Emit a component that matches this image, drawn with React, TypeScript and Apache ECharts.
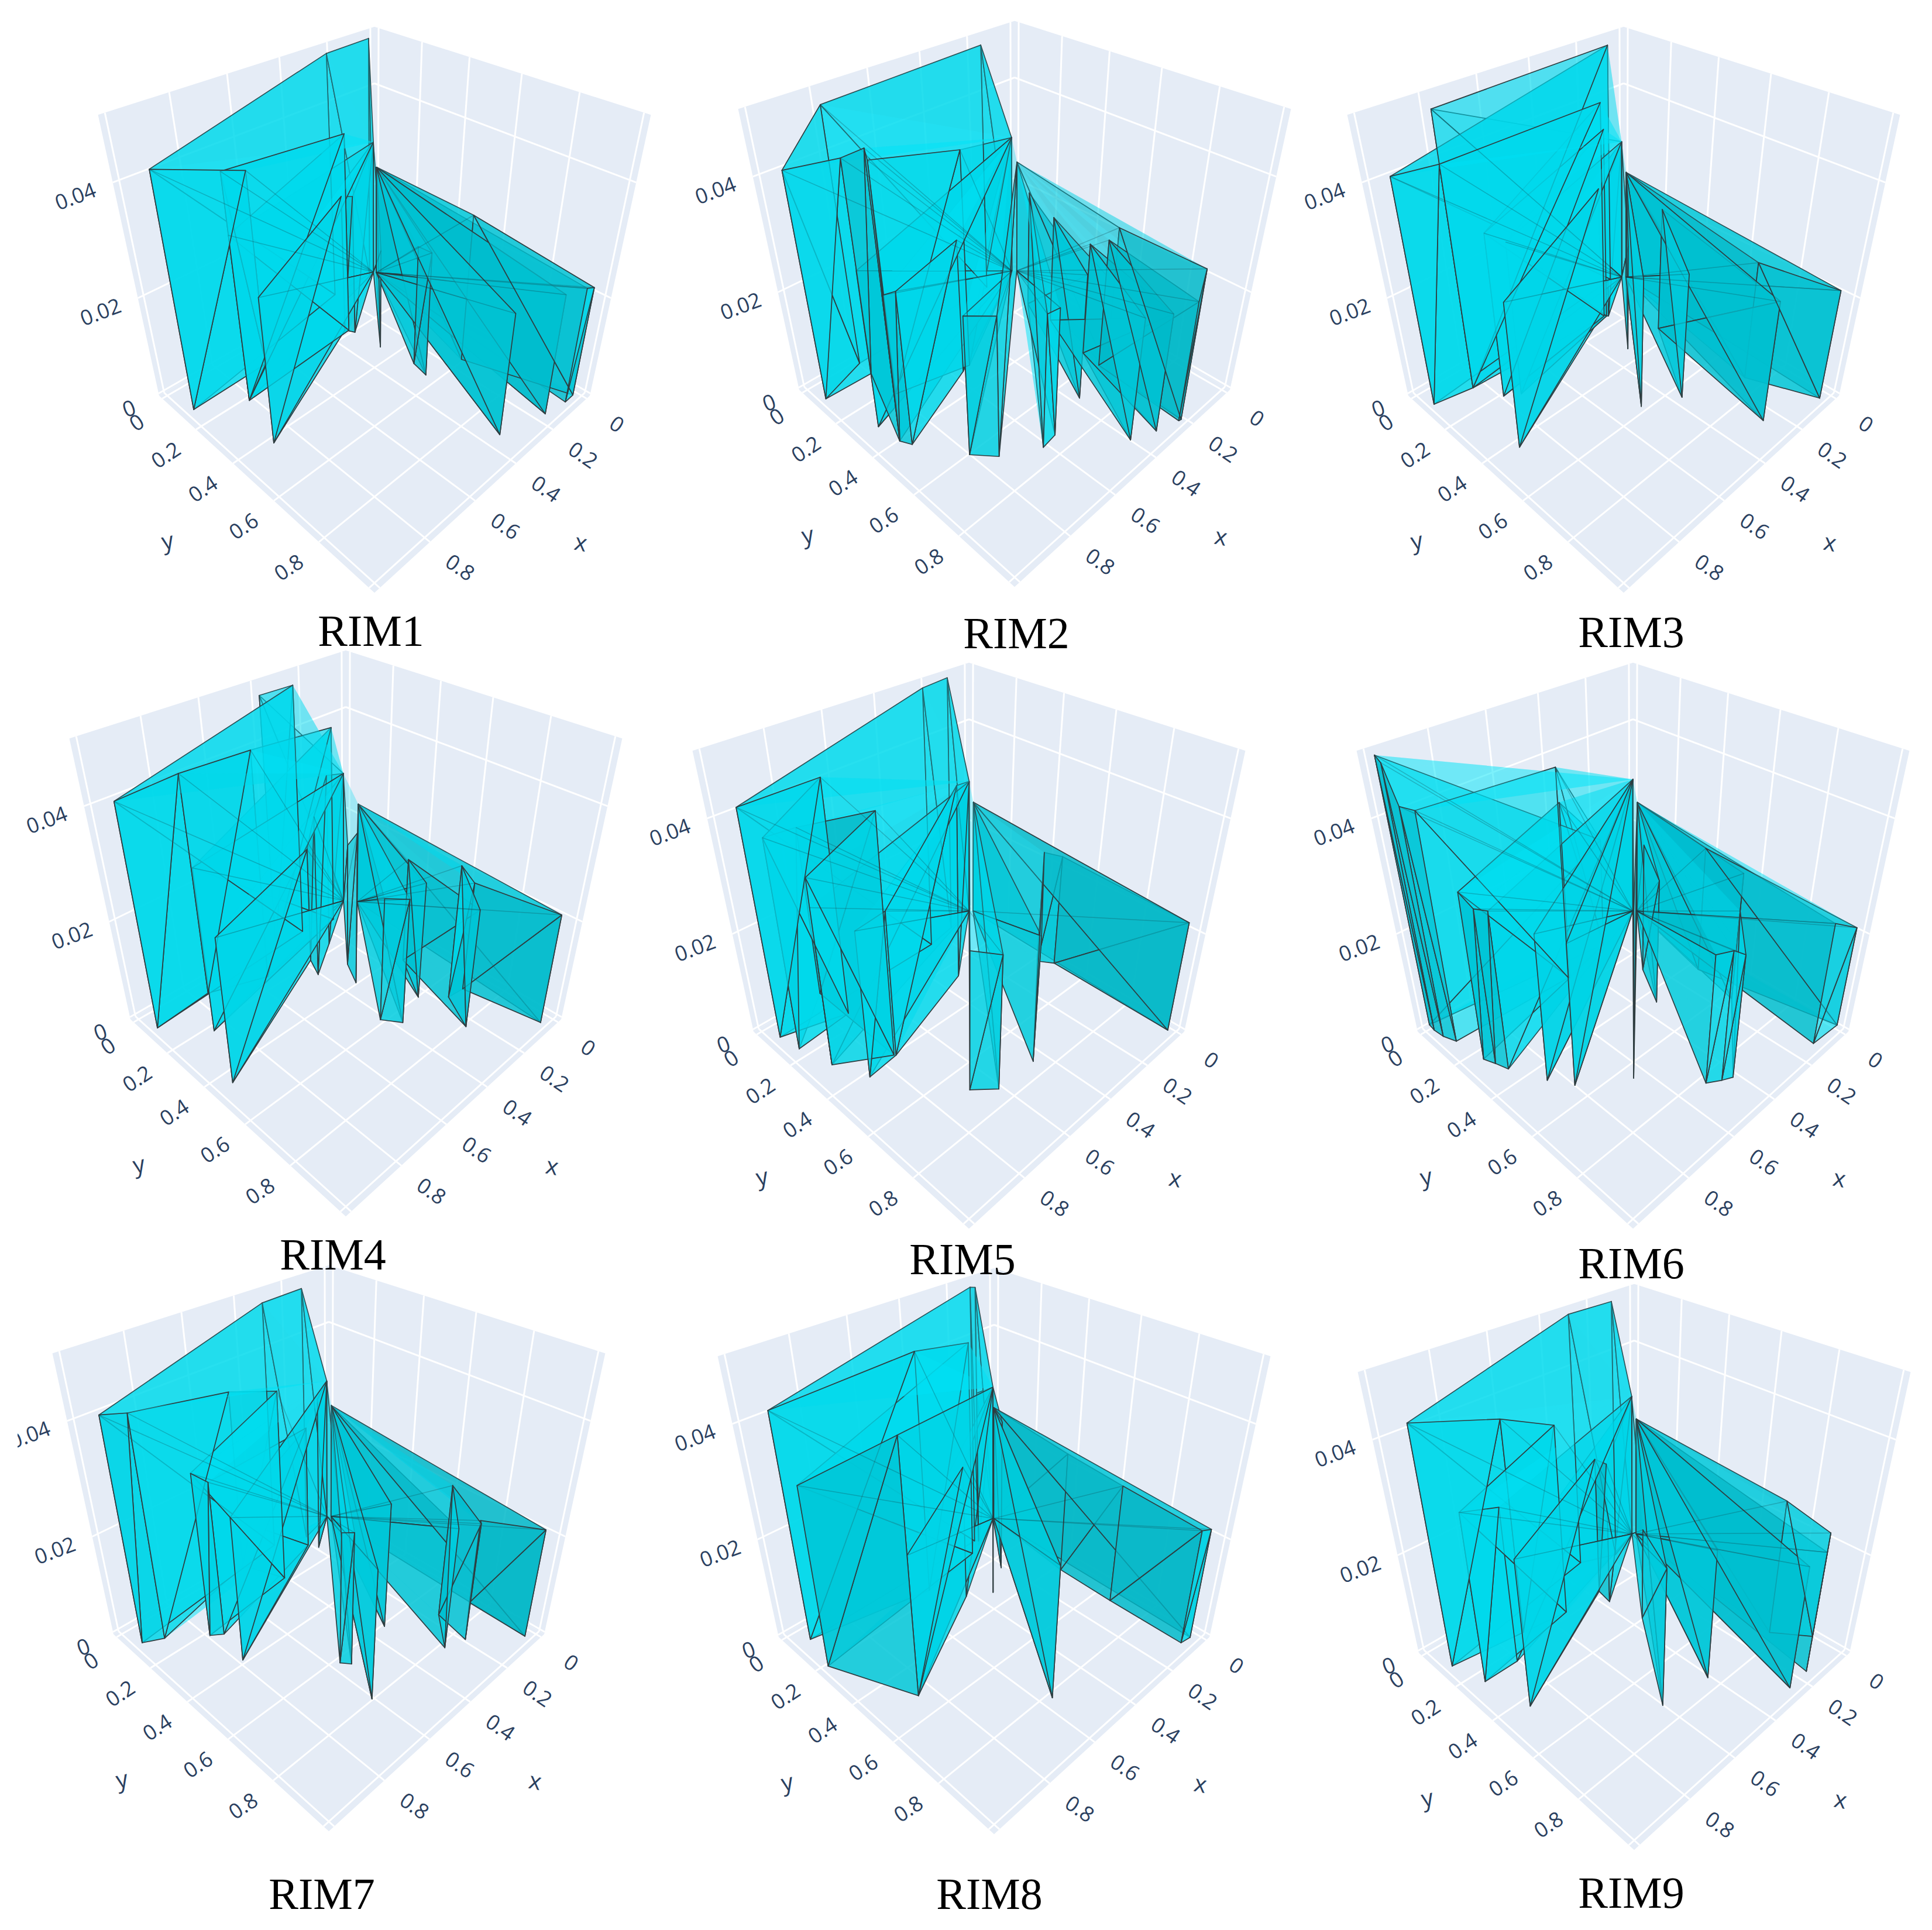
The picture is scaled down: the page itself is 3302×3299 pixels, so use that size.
import React, { useEffect, useRef } from "react";
import * as echarts from "echarts";

// Camera of the 3D scene, in pixels, shared by all panels
const K = 300, M = 173, N = 343, A = 0.185, C = 0.18;
// Axis ranges
const XMIN = -0.02, XMAX = 1.02, ZMIN = -0.0005, ZMAX = 0.05;
const gridTicks = [0, 0.2, 0.4, 0.6, 0.8, 1];
const labelTicks = [0, 0.2, 0.4, 0.6, 0.8];
const zTicks = [0, 0.02, 0.04];

const names = ["RIM1", "RIM2", "RIM3", "RIM4", "RIM5", "RIM6", "RIM7", "RIM8", "RIM9"];
const backCorners = [[640,464],[1734,454],[2775,464],[591,1530],[1656,1551],[2791,1551],[562,2581],[1699,2586],[2793,2613]];
const titleCenters = [[634,1078],[1737,1082],[2788,1080],[569,2144],[1645,2152],[2788,2159],[550,3237],[1691,3237],[2788,3235]];

const L = "L", R = "R";
// Mesh vertices [x, y, z] per run; L and R are the two tops of the central column
const rim1Left = [-0.014,-0.02,0.02878], rim1Right = [-0.02,-0.009,0.02369];
const rim1Folds: any[] = [L,[0.009,-0.02,0.04834],[0.206,-0.018,0.0482],[0.974,0.119,0.04373],[0.66,0.11,0.03763],[0.816,0.216,0.0423],[0.321,0.184,0.03923],[0.816,0.216,0.03206],L,[0.878,0.424,0.02803],[0.331,0.173,0.02798],[0.313,0.209,0.02832],L,[0.305,0.336,0.02037],R,[0.285,0.485,0.02415],[0.299,0.555,0.0249],R,[0.34,0.912,0.02391],R,[0.159,0.962,0.02379],R,[0.065,0.978,0.02295],[0.018,0.977,0.02187],[0.147,0.591,0.02926],R];
const rim1Light: number[] = [];

const rim2Left = [0.015,-0.001,0.02932], rim2Right = [0,0.013,0.02431];
const rim2Folds: any[] = [L,[0.166,0.008,0.04844],[0.795,0.016,0.04775],[0.98,0.081,0.04211],[0.798,0.088,0.04081],[0.92,0.405,0.05],[0.8,0.229,0.04306],[0.526,0.3,0.04105],L,[0.931,0.308,0.02996],L,[0.92,0.405,0.02802],[0.901,0.444,0.02922],[0.563,0.308,0.02657],L,[0.801,0.603,0.02667],[0.741,0.673,0.02693],R,[0.553,0.736,0.02491],[0.617,0.745,0.02584],[0.126,0.2,0.02397],[0.373,0.683,0.02466],[0.138,0.331,0.02201],[0.399,0.92,0.02391],[0.192,0.542,0.02266],[0.31,0.955,0.02313],[0.202,0.624,0.02555],[0.222,0.98,0.02362],[0.212,0.982,0.02917],[0.199,0.657,0.02847],R];
const rim2Light = [29];

const rim3Left = [0.014,0.003,0.02972], rim3Right = [0.002,0.015,0.02344];
const rim3Folds: any[] = [L,[0.841,0.105,0.05],[0.058,-0.02,0.04777],[0.981,0.077,0.042],[0.841,0.105,0.04184],[0.245,0.138,0.04263],[0.791,0.212,0.03179],[0.239,0.145,0.03804],[0.742,0.246,0.02992],L,[0.897,0.43,0.02788],[0.253,0.13,0.02706],[0.233,0.15,0.02785],L,[0.317,0.339,0.02162],R,[0.494,0.578,0.02536],R,[0.365,0.646,0.02475],[0.152,0.338,0.0252],[0.257,0.907,0.02369],R,[0.037,0.98,0.02186],[0.136,0.737,0.02353],R];
const rim3Light = [0, 1];

const rim4Left = [0.015,0.002,0.02808], rim4Right = [-0.02,0.047,0.02192];
const rim4Folds: any[] = [L,[0.416,0.038,0.04863],[0.275,0.035,0.0484],[0.978,0.08,0.04182],[0.753,0.061,0.04176],[0.546,0.143,0.04341],[0.134,0.063,0.03966],[0.851,0.226,0.03157],L,[0.947,0.448,0.02773],[0.372,0.186,0.02344],[0.408,0.265,0.03194],[0.255,0.164,0.03462],L,[0.291,0.3,0.02495],[0.342,0.394,0.03028],R,[0.418,0.585,0.0244],[0.374,0.648,0.02473],R,[0.241,0.603,0.02344],[0.127,0.43,0.02142],[0.238,0.812,0.02347],[0.165,0.678,0.02664],[0.096,0.687,0.022],[0.043,0.979,0.02185],R];
const rim4Light = [0, 1, 5];

const rim5Left = [-0.002,-0.001,0.0286], rim5Right = [-0.014,0.01,0.02432];
const rim5Folds: any[] = [L,[0.131,0.03,0.04978],[0.262,0.054,0.05],[0.971,0.067,0.0424],[0.735,0.137,0.04407],[0.957,0.158,0.03922],[0.743,-0.02,0.03316],[0.752,0.403,0.04407],[0.923,0.293,0.03513],[0.923,0.293,0.03022],L,[0.869,0.421,0.02813],[0.748,0.408,0.02816],[0.32,0.265,0.03785],L,[0.681,0.685,0.02682],[0.614,0.747,0.02597],R,[0.449,0.746,0.02477],[0.047,0.416,0.02323],[0.011,0.469,0.02277],[0.014,0.976,0.02188],R];
const rim5Light: number[] = [];

const rim6Left = [-0.001,-0.002,0.02902], rim6Right = [-0.013,0.01,0.02432];
const rim6Folds: any[] = [[0.241,0.076,0.02272],[0.47,0.131,0.04121],[0.953,0.112,0.04241],[0.971,0.061,0.04242],[0.976,0.014,0.04816],[0.973,-0.02,0.04866],[0.241,0.076,0.02272],[0.467,0.135,0.03526],[0.937,0.244,0.03198],[0.921,0.287,0.02981],[0.906,0.336,0.03029],L,[0.848,0.462,0.02815],L,[0.8,0.54,0.02731],L,[0.647,0.65,0.03166],R,[0.241,0.293,0.02615],[0.335,0.454,0.02489],R,[0.5,0.827,0.02502],[0.455,0.855,0.02528],[0.42,0.872,0.02406],[0.132,0.633,0.01849],[0.132,0.633,0.02573],R,[0.112,0.968,0.02403],[-0.02,0.975,0.02003],[0.093,0.44,0.02551],R];
const rim6Light = [0, 1, 27];

const rim7Left = [0.018,0.007,0.02969], rim7Right = [0.006,0.019,0.0247];
const rim7Folds: any[] = [L,[0.175,0.049,0.04919],[0.301,-0.002,0.04779],[0.974,0.084,0.042],[0.908,0.12,0.04175],[0.471,0.008,0.03536],[0.407,0.174,0.03728],[0.791,0.218,0.03163],[0.753,0.247,0.02989],[0.207,0.092,0.02527],[0.785,0.385,0.02782],L,[0.187,0.131,0.03117],L,[0.568,0.62,0.02562],[0.545,0.65,0.02582],R,[0.607,0.797,0.02505],R,[0.337,0.609,0.02475],R,[0.271,0.82,0.02384],[0.159,0.705,0.02622],[0.191,0.845,0.02335],[0.031,0.743,0.01733],[0.035,0.979,0.02163],R];
const rim7Light: number[] = [];

const rim8Left = [0.011,0.005,0.0289], rim8Right = [0.009,0.007,0.02473];
const rim8Folds: any[] = [L,[0.161,0.074,0.05],[0.172,0.062,0.05],[0.95,0.066,0.04236],[0.496,0.16,0.0455],[0.233,0.114,0.04231],[0.979,0.211,0.03415],[0.852,0.516,0.04545],L,[0.852,0.516,0.02702],[0.424,0.281,0.02661],L,[0.179,0.093,0.03209],L,[0.339,0.334,0.03693],L,[0.217,0.255,0.03032],R,[0.561,0.819,0.02559],R,[0.066,0.423,0.02456],[0.072,0.664,0.02375],[0.072,0.967,0.02266],[0.028,0.974,0.02196],R];
const rim8Light: number[] = [];

const rim9Left = [0.013,0,0.03014], rim9Right = [0.001,0.012,0.02558];
const rim9Folds: any[] = [L,[0.159,0.054,0.05],[0.294,-0.005,0.04885],[0.975,0.113,0.04414],[0.704,0.152,0.0406],[0.526,0.177,0.03682],[0.939,0.249,0.03228],[0.807,0.249,0.03009],L,[0.901,0.436,0.0282],[0.362,0.176,0.02759],[0.375,0.246,0.02836],L,[0.354,0.395,0.01861],[0.602,0.73,0.02646],R,[0.41,0.753,0.02517],R,[0.256,0.971,0.02394],R,[0.157,0.966,0.02377],[0.001,0.884,0.02133],[0.091,0.765,0.02661],R];
const rim9Light: number[] = [];

const meshes = [
  [rim1Left,rim1Right,rim1Folds,rim1Light],[rim2Left,rim2Right,rim2Folds,rim2Light],[rim3Left,rim3Right,rim3Folds,rim3Light],
  [rim4Left,rim4Right,rim4Folds,rim4Light],[rim5Left,rim5Right,rim5Folds,rim5Light],[rim6Left,rim6Right,rim6Folds,rim6Light],
  [rim7Left,rim7Right,rim7Folds,rim7Light],[rim8Left,rim8Right,rim8Folds,rim8Light],[rim9Left,rim9Right,rim9Folds,rim9Light],
] as any[];

const nx = (v: number) => (v - XMIN) / (XMAX - XMIN), nz = (v: number) => (v - ZMIN) / (ZMAX - ZMIN);
const norm = (v: number[]) => [nx(v[0]), nx(v[1]), nz(v[2])];
const proj = (q: number[]) => { const w = 1 - A * (q[0] + q[1]) - C * q[2]; return [K * (q[1] - q[0]) / w, (M * (q[0] + q[1]) - N * q[2]) / w, w]; };

function frameItems() {
  const items: any[] = [];
  const wall = "#E5ECF6";
  items.push({ poly: [[1,0,0],[0,0,0],[0,0,1],[1,0,1]], fill: wall });
  items.push({ poly: [[0,1,0],[0,0,0],[0,0,1],[0,1,1]], fill: wall });
  items.push({ poly: [[0,0,0],[1,0,0],[1,1,0],[0,1,0]], fill: wall });
  for (const t of gridTicks) {
    const n = nx(t);
    items.push({ line: [[n,0,0],[n,1,0]] }); items.push({ line: [[0,n,0],[1,n,0]] });
    items.push({ line: [[n,0,0],[n,0,1]] }); items.push({ line: [[0,n,0],[0,n,1]] });
  }
  for (const z of zTicks) { const n = nz(z); items.push({ line: [[0,0,n],[1,0,n]] }); items.push({ line: [[0,0,n],[0,1,n]] }); }
  return items;
}
function labels() {
  const out: any[] = [];
  for (const t of labelTicks) {
    const a = proj([1, nx(t), 0]);
    out.push(t === 0 ? { t: "0", x: -407, y: 257, r: 0.58, size: 37 } : { t: String(t), x: a[0] - 52, y: a[1] + 43, r: 0.58, size: 36 });
    const b = proj([nx(t), 1, 0]);
    out.push({ t: String(t), x: b[0] + 52, y: b[1] + 43, r: -0.6, size: 36 });
  }
  for (const z of zTicks) {
    const a = proj([1, 0, nz(z)]);
    out.push(z === 0 ? { t: "0", x: -420, y: 233, r: 0.36, size: 37 } : { t: String(z), x: a[0] - 64, y: a[1] + 23, r: 0.36, size: 36 });
  }
  out.push({ t: "y", x: -354, y: 459, r: 0.2, size: 40 });
  out.push({ t: "x", x: 353, y: 462, r: -0.2, size: 40 });
  return out;
}
function meshFaces(mesh: any[]) {
  const cl = norm(mesh[0]), cr = norm(mesh[1]), folds = mesh[2], lights = mesh[3];
  const seq = folds.map((r: any) => (r === "L" ? cl : r === "R" ? cr : norm(r)));
  const firstR = folds.indexOf("R");
  const faces: any[] = [], spokes: any[] = [];
  const add = (a: number[], b: number[], d: number[], kind: number, light: boolean) => {
    const u = [b[0]-a[0], b[1]-a[1], b[2]-a[2]], w = [d[0]-a[0], d[1]-a[1], d[2]-a[2]];
    const n = [u[1]*w[2]-u[2]*w[1], u[2]*w[0]-u[0]*w[2], u[0]*w[1]-u[1]*w[0]];
    const l = Math.hypot(n[0], n[1], n[2]) || 1;
    const br = Math.min(1, 0.8 + 0.2 * (Math.abs(n[1]/l) * 0.75 + Math.abs(n[2]/l)));
    faces.push({ poly: [a, b, d], br, kind, light, depth: (proj(a)[2] + proj(b)[2] + proj(d)[2]) / 3 });
  };
  for (let i = 0; i < seq.length - 1; i++) {
    const P = seq[i], Q = seq[i + 1];
    const c = i < firstR ? cl : cr, cb = [c[0], c[1], 0];
    const pb = [P[0], P[1], 0], qb = [Q[0], Q[1], 0];
    const light = lights.includes(i);
    add(cb, pb, qb, 1, false);
    add(c, P, Q, 1, false);
    add(pb, qb, Q, 0, light); add(pb, Q, P, 0, light);
    if (P[0] + P[1] > 0.55) spokes.push([P, cb]);
  }
  faces.sort((a, b) => b.depth - a.depth);
  return { faces, spokes };
}

export default function App() {
  const ref = useRef<HTMLDivElement>(null);
  useEffect(() => {
    const chart = echarts.init(ref.current!, undefined, { renderer: "svg" });
    const grid: any[] = [], xAxis: any[] = [], yAxis: any[] = [], series: any[] = [];
    const frame = frameItems(), lab = labels();
    names.forEach((_name, pi) => {
      const B = backCorners[pi];
      grid.push({ left: B[0] - 500, top: B[1] - 400, width: 1000, height: 1000 });
      xAxis.push({ type: "value", gridIndex: pi, min: -500, max: 500, show: false });
      yAxis.push({ type: "value", gridIndex: pi, min: -400, max: 600, inverse: true, show: false });
      const base = { type: "custom", coordinateSystem: "cartesian2d", xAxisIndex: pi, yAxisIndex: pi, silent: true, clip: false };
      const poly = (api: any, q: number[][]) => q.map(c => { const s = proj(c); return api.coord([s[0], s[1]]); });
      series.push({ ...base, z: 1, data: frame.map((_, i) => [i]), renderItem: (_: any, api: any) => {
        const it = frame[api.value(0)];
        if (it.poly) return { type: "polygon", shape: { points: poly(api, it.poly) }, style: { fill: it.fill } };
        const s = poly(api, it.line);
        return { type: "line", shape: { x1: s[0][0], y1: s[0][1], x2: s[1][0], y2: s[1][1] }, style: { stroke: "#fff", lineWidth: 3 } };
      } });
      const { faces, spokes } = meshFaces(meshes[pi]);
      series.push({ ...base, z: 2, data: faces.map((_, i) => [i]), renderItem: (_: any, api: any) => {
        const f = faces[api.value(0)];
        const g = Math.round(228 * f.br), b = Math.round(248 * f.br);
        const alpha = f.kind ? 0.3 : f.light ? 0.5 : 0.78;
        return { type: "polygon", shape: { points: poly(api, f.poly) }, style: { fill: `rgba(0,${g},${b},${alpha})`, stroke: f.kind ? "none" : "#2f3d40", lineWidth: 1.7, lineJoin: "round" } };
      } });
      series.push({ ...base, z: 2.5, data: spokes.map((_, i) => [i]), renderItem: (_: any, api: any) => {
        const s = poly(api, spokes[api.value(0)]);
        return { type: "line", shape: { x1: s[0][0], y1: s[0][1], x2: s[1][0], y2: s[1][1] }, style: { stroke: "rgba(20,60,70,0.28)", lineWidth: 1.5 } };
      } });
      series.push({ ...base, z: 3, data: lab.map((_, i) => [i]), renderItem: (_: any, api: any) => {
        const l = lab[api.value(0)], c = api.coord([l.x, l.y]);
        return { type: "text", x: c[0], y: c[1], rotation: l.r, style: { text: l.t, fill: "#2a3f5f", font: `${l.size}px "Open Sans"`, textAlign: "center", textVerticalAlign: "middle" } };
      } });
    });
    const titles: any[] = names.map((n, i) => ({ type: "text", z: 10, x: titleCenters[i][0], y: titleCenters[i][1], style: { text: n, fill: "#000", font: '76px "Liberation Serif"', textAlign: "center", textVerticalAlign: "middle" } }));
    titles.push({ type: "rect", z: 10, shape: { x: 0, y: 2400, width: 30, height: 90 }, style: { fill: "#fff" } });
    chart.setOption({ animation: false, backgroundColor: "#fff", grid, xAxis, yAxis, series, graphic: titles });
    return () => chart.dispose();
  }, []);
  return <div ref={ref} style={{ position: "absolute", left: 0, top: 0, width: 3302, height: 3299 }} />;
}
